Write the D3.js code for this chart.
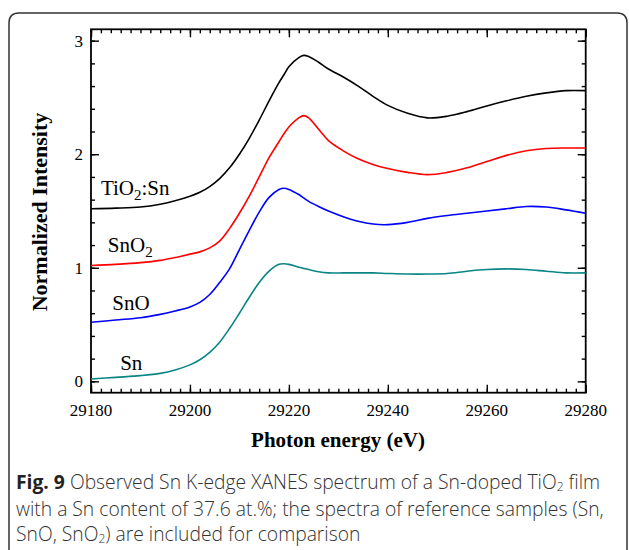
<!DOCTYPE html>
<html>
<head>
<meta charset="utf-8">
<script src="https://cdn.jsdelivr.net/npm/d3@7"></script>
<style>
  body { margin: 0; background: #fff; }
  svg { display: block; }
</style>
</head>
<body>
<div id="chart"></div>
<script>
// photon energies (eV), shared by all spectra
var energy = [29180, 29185, 29190, 29194, 29197, 29200, 29202, 29204, 29206, 29208,
  29210, 29212, 29214, 29216, 29218, 29219, 29220, 29222, 29223, 29224,
  29226, 29228, 29231, 29234, 29237, 29240, 29244, 29248, 29252, 29256,
  29260, 29264, 29268, 29272, 29276, 29280];

var tio2sn = [1.52, 1.525, 1.535, 1.56, 1.59, 1.63, 1.665, 1.715, 1.785, 1.88,
  2.00, 2.14, 2.30, 2.47, 2.63, 2.70, 2.77, 2.85, 2.87, 2.86,
  2.81, 2.75, 2.68, 2.60, 2.51, 2.43, 2.36, 2.32, 2.335, 2.375,
  2.425, 2.47, 2.51, 2.54, 2.56, 2.56];

var sno2 = [1.02, 1.03, 1.045, 1.065, 1.09, 1.12, 1.14, 1.175, 1.235, 1.345,
  1.48, 1.63, 1.80, 1.97, 2.11, 2.18, 2.24, 2.32, 2.34, 2.32,
  2.22, 2.12, 2.03, 1.96, 1.91, 1.875, 1.84, 1.82, 1.84, 1.88,
  1.935, 1.99, 2.03, 2.05, 2.055, 2.055];

var sno = [0.52, 0.54, 0.56, 0.59, 0.62, 0.655, 0.695, 0.765, 0.87, 0.99,
  1.16, 1.33, 1.49, 1.62, 1.69, 1.70, 1.69, 1.645, 1.615, 1.585,
  1.54, 1.50, 1.45, 1.41, 1.385, 1.38, 1.40, 1.435, 1.46, 1.48,
  1.50, 1.52, 1.54, 1.535, 1.51, 1.48];

var sn = [0.02, 0.035, 0.05, 0.07, 0.10, 0.145, 0.19, 0.255, 0.345, 0.465,
  0.60, 0.74, 0.87, 0.97, 1.03, 1.035, 1.03, 1.005, 0.995, 0.985,
  0.965, 0.955, 0.955, 0.955, 0.955, 0.95, 0.945, 0.945, 0.95, 0.97,
  0.985, 0.99, 0.985, 0.97, 0.955, 0.955];

var xTicks = [29180, 29200, 29220, 29240, 29260, 29280];
var yTicks = [0, 1, 2, 3];

var series = [
  {name: "TiO2:Sn", values: tio2sn, color: "#000000"},
  {name: "SnO2", values: sno2, color: "#ff0000"},
  {name: "SnO", values: sno, color: "#0000ff"},
  {name: "Sn", values: sn, color: "#0a8585"}
];

// curve labels: [main text, subscript, tail text, energy, intensity]
var labels = [
  ["TiO", "2", ":Sn", 29182.0, 1.645],
  ["SnO", "2", "", 29183.4, 1.14],
  ["SnO", "", "", 29184.3, 0.63],
  ["Sn", "", "", 29185.9, 0.10]
];

var W = 629, H = 550;
var margin = {top: 29.3, left: 91, right: W - 585.7, bottom: H - 392.7};

var svg = d3.select("#chart").append("svg")
  .attr("width", W)
  .attr("height", H);

// outer frame with rounded top corners, open at the bottom
svg.append("path")
  .attr("d", "M9,560 L9,23 Q9,13 19,13 L617,13 Q627,13 627,23 L627,560")
  .attr("fill", "none")
  .attr("stroke", "#333")
  .attr("stroke-width", 1.5);

var x = d3.scaleLinear().domain([29180, 29280]).range([margin.left, W - margin.right]);
var y = d3.scaleLinear().domain([-0.1, 3.1]).range([H - margin.bottom, margin.top]);

var serif = "'Liberation Serif', 'Times New Roman', serif";

// minor + major ticks on all four sides (inward)
function drawTicks(axis, values, len) {
  svg.append("g")
    .attr("transform", axis === "bottom" ? "translate(0," + y.range()[0] + ")" :
                       axis === "top" ? "translate(0," + y.range()[1] + ")" :
                       axis === "left" ? "translate(" + x.range()[0] + ",0)" :
                       "translate(" + x.range()[1] + ",0)")
    .call((axis === "bottom" ? d3.axisBottom(x) : axis === "top" ? d3.axisTop(x) :
           axis === "left" ? d3.axisLeft(y) : d3.axisRight(y))
      .tickValues(values).tickSize(-len).tickFormat(""))
    .call(function(g) { g.select(".domain").remove(); })
    .selectAll("line").attr("stroke", "#000").attr("stroke-width", 1.4);
}

var xMinor = d3.range(29180, 29281, 2);
var yMinor = d3.range(0, 16).map(function(i) { return +(i * 0.2).toFixed(1); });
["bottom", "top"].forEach(function(s) {
  drawTicks(s, xMinor, 4);
  drawTicks(s, xTicks, 8);
});
["left", "right"].forEach(function(s) {
  drawTicks(s, yMinor, 4);
  drawTicks(s, yTicks, 8);
});

// plot border
svg.append("rect")
  .attr("x", x.range()[0]).attr("y", y.range()[1])
  .attr("width", x.range()[1] - x.range()[0])
  .attr("height", y.range()[0] - y.range()[1])
  .attr("fill", "none").attr("stroke", "#000").attr("stroke-width", 1.8);

// tick labels
svg.append("g").selectAll("text")
  .data(xTicks).enter().append("text")
  .attr("x", function(d) { return x(d); })
  .attr("y", 416)
  .attr("text-anchor", "middle")
  .style("font-family", serif).style("font-size", "17px")
  .text(function(d) { return d; });

svg.append("g").selectAll("text")
  .data(yTicks).enter().append("text")
  .attr("x", 83)
  .attr("y", function(d) { return y(d) + 6; })
  .attr("text-anchor", "end")
  .style("font-family", serif).style("font-size", "17px")
  .text(function(d) { return d; });

// spectra
var line = d3.line()
  .x(function(d, i) { return x(energy[i]); })
  .y(function(d) { return y(d); })
  .curve(d3.curveCatmullRom.alpha(0.5));

svg.append("g").selectAll("path")
  .data(series).enter().append("path")
  .attr("d", function(d) { return line(d.values); })
  .attr("fill", "none")
  .attr("stroke", function(d) { return d.color; })
  .attr("stroke-width", 1.6);

// curve labels
labels.forEach(function(l) {
  var t = svg.append("text")
    .attr("x", x(l[3])).attr("y", y(l[4]))
    .style("font-family", serif).style("font-size", "21px");
  t.append("tspan").text(l[0]);
  if (l[1]) t.append("tspan").attr("dy", 5).style("font-size", "15px").text(l[1]);
  if (l[2]) t.append("tspan").attr("dy", -5).text(l[2]);
});

// axis titles
svg.append("text")
  .attr("x", 338).attr("y", 447)
  .attr("text-anchor", "middle")
  .style("font-family", serif).style("font-size", "21px").style("font-weight", "bold")
  .text("Photon energy (eV)");

svg.append("text")
  .attr("transform", "translate(47,212) rotate(-90)")
  .attr("text-anchor", "middle")
  .style("font-family", serif).style("font-size", "22px").style("font-weight", "bold")
  .text("Normalized Intensity");

// caption
var sans = "'Open Sans', 'Noto Sans', sans-serif";
var cap = svg.append("g").style("font-family", sans).style("font-size", "19.3px")
  .style("font-weight", 300).attr("fill", "#333");
var l1 = cap.append("text").attr("x", 16).attr("y", 489);
l1.append("tspan").style("font-weight", "bold").attr("fill", "#222").text("Fig. 9");
l1.append("tspan").text(" Observed Sn K-edge XANES spectrum of a Sn-doped TiO");
l1.append("tspan").attr("dy", 2).style("font-size", "12px").text("2");
l1.append("tspan").attr("dy", -2).text(" film");
cap.append("text").attr("x", 16).attr("y", 516)
  .text("with a Sn content of 37.6 at.%; the spectra of reference samples (Sn,");
var l3 = cap.append("text").attr("x", 16).attr("y", 541);
l3.append("tspan").text("SnO, SnO");
l3.append("tspan").attr("dy", 2).style("font-size", "12px").text("2");
l3.append("tspan").attr("dy", -2).text(") are included for comparison");
</script>
</body>
</html>
